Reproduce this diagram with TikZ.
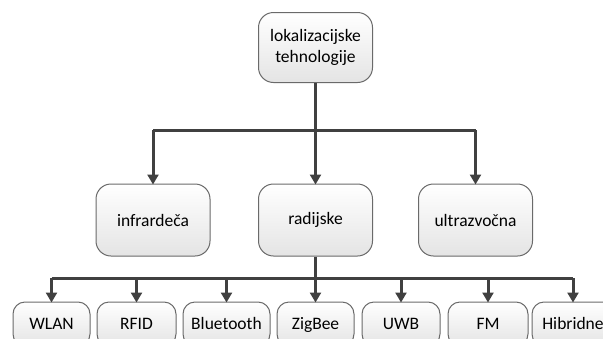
\documentclass[tikz,border=0pt]{standalone}
\usepackage{fontspec}
\setmainfont{Carlito}
\usetikzlibrary{arrows.meta,calc}
\definecolor{linec}{HTML}{404040}
\definecolor{borderc}{HTML}{6A6A6A}
\definecolor{fillb}{HTML}{E4E4E4}
\tikzset{
  box/.style={draw=borderc, line width=1pt, rounded corners=15pt, top color=white, bottom color=fillb,
    align=center, inner sep=2pt, font=\fontsize{17.5}{21}\selectfont, text=black},
  midbox/.style={box, minimum width=114pt, minimum height=72pt},
  leafbox/.style={box, rounded corners=12pt, minimum height=44pt, text height=12pt, text depth=2pt},
  conn/.style={draw=linec, line width=3pt},
  arr/.style={conn, -{Triangle[length=10pt,width=11pt]}, shorten >=-1pt}
}
\begin{document}
\begin{tikzpicture}[x=1pt,y=-1pt]
\useasboundingbox (0,0) rectangle (603,338);
\clip (0,0) rectangle (603,338);
\node[midbox, minimum height=70pt] (top) at (315.5,47.5) {lokalizacijske\\tehnologije};
\node[midbox] (infr) at (153,220) {infrardeča};
\node[midbox] (rad) at (315.5,220) {radijske};
\node[midbox] (ultra) at (475.5,220) {ultrazvočna};
\node[leafbox, minimum width=77pt] (wlan) at (51.5,324) {WLAN};
\node[leafbox, minimum width=79pt] (rfid) at (136.5,324) {RFID};
\node[leafbox, minimum width=87pt] (bt) at (226.5,324) {Bluetooth};
\node[leafbox, minimum width=77pt] (zig) at (315.5,324) {ZigBee};
\node[leafbox, minimum width=78pt] (uwb) at (401,324) {UWB};
\node[leafbox, minimum width=80pt] (fm) at (488,324) {FM};
\node[leafbox, minimum width=82pt] (hib) at (573,324) {Hibridne};
\coordinate (j1) at (315.5,130);
\coordinate (j2) at (315.5,278);
\draw[conn] (top.south) -- (j1);
\draw[conn] (j1 -| infr.north) -- (j1 -| ultra.north);
\draw[arr] (j1 -| infr.north) -- (infr.north);
\draw[arr] (j1) -- (rad.north);
\draw[arr] (j1 -| ultra.north) -- (ultra.north);
\draw[conn] (rad.south) -- (j2);
\draw[conn] (j2 -| wlan.north) -- (j2 -| hib.north);
\foreach \n in {wlan,rfid,bt,zig,uwb,fm,hib} {
  \draw[arr] (j2 -| \n.north) -- (\n.north);
}
\end{tikzpicture}
\end{document}
